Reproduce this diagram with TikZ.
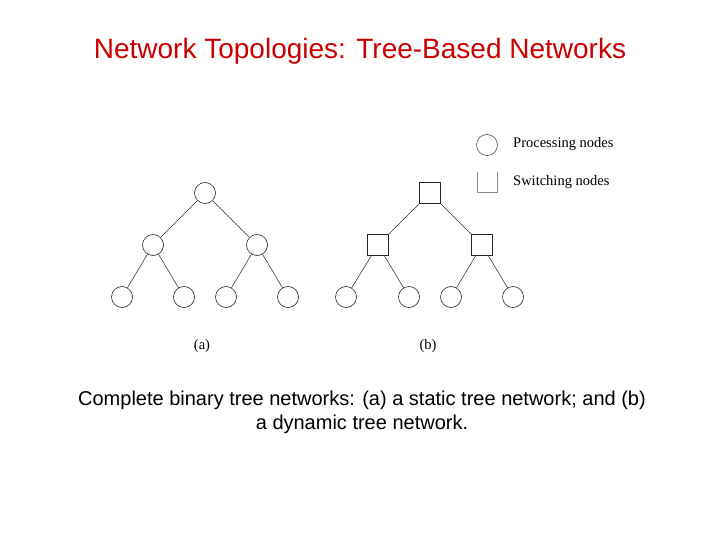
\documentclass[tikz,border=0pt]{standalone}
\usepackage{fontspec}
\setmainfont{Liberation Sans}
\newfontfamily\serifx{Liberation Serif}
\definecolor{titlered}{RGB}{204,0,0}
\begin{document}
\begin{tikzpicture}[x=1pt,y=-1pt,
  pnode/.style={draw=black!85,line width=0.6pt,circle,minimum size=21pt,inner sep=0pt},
  snode/.style={draw=black!85,line width=0.6pt,rectangle,minimum size=21pt,inner sep=0pt},
  edge/.style={draw=black!80,line width=0.55pt},
  small/.style={font=\serifx\fontsize{14.5}{17}\selectfont,inner sep=0pt}]
\useasboundingbox (0,0) rectangle (720,540);
\node[text=titlered,font=\fontsize{28}{32}\selectfont] (title) at (360,51) {Network Topologies: Tree-Based Networks};
% tree (a)
\node[pnode] (ar) at (205,193) {};
\node[pnode] (al) at (153,245) {};
\node[pnode] (aR) at (257,245) {};
\node[pnode] (a1) at (122,297) {};
\node[pnode] (a2) at (184,297) {};
\node[pnode] (a3) at (226,297) {};
\node[pnode] (a4) at (288,297) {};
\draw[edge] (ar) -- (al);
\draw[edge] (ar) -- (aR);
\draw[edge] (al) -- (a1);
\draw[edge] (al) -- (a2);
\draw[edge] (aR) -- (a3);
\draw[edge] (aR) -- (a4);
% tree (b)
\node[snode] (br) at (430,193) {};
\node[snode] (bl) at (378,245) {};
\node[snode] (bR) at (482,245) {};
\node[pnode] (b1) at (346,297) {};
\node[pnode] (b2) at (409,297) {};
\node[pnode] (b3) at (451,297) {};
\node[pnode] (b4) at (513,297) {};
\draw[edge] (br) -- (bl);
\draw[edge] (br) -- (bR);
\draw[edge] (bl) -- (b1);
\draw[edge] (bl) -- (b2);
\draw[edge] (bR) -- (b3);
\draw[edge] (bR) -- (b4);
% labels
\node[small] (la) at (202,346) {(a)};
\node[small] (lb) at (428,346) {(b)};
% legend
\node[pnode,draw=black!70] (lp) at (487,145) {};
\node[small,anchor=west] (lpt) at (513,144) {Processing nodes};
\coordinate (s1) at (477,172);
\coordinate (s2) at (477,192);
\coordinate (s3) at (497,192);
\coordinate (s4) at (497,172);
\draw[black!45,line width=0.6pt] (s1) -- (s2) -- (s3) -- (s4);
\node[small,anchor=west] (lst) at (513,182) {Switching nodes};
% caption
\node[align=center,font=\fontsize{20}{24}\selectfont] (cap) at (362,412) {Complete binary tree networks: (a) a static tree network; and (b)\\a dynamic tree network.};
\end{tikzpicture}
\end{document}
